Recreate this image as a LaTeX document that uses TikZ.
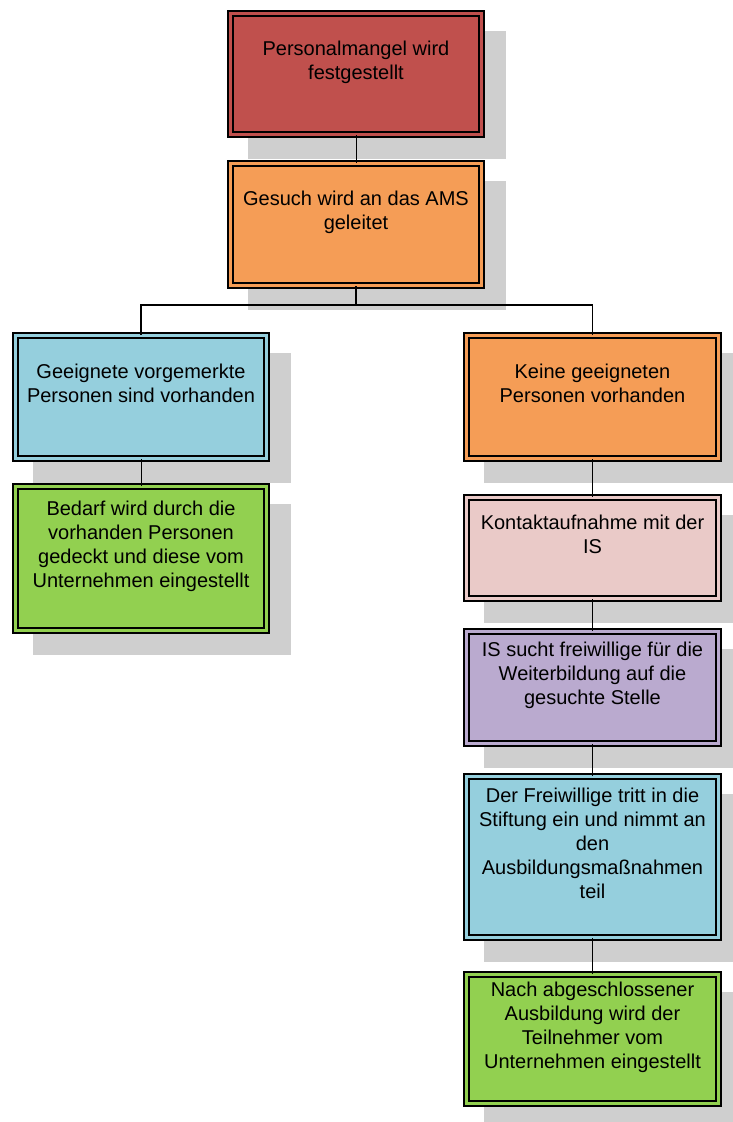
\documentclass[tikz,border=0pt]{standalone}
\usepackage{fontspec}
\setmainfont{Liberation Sans}
\usetikzlibrary{shadows}

\definecolor{redbox}{HTML}{C0504D}
\definecolor{orangebox}{HTML}{F59D56}
\definecolor{bluebox}{HTML}{95CFDD}
\definecolor{greenbox}{HTML}{92D050}
\definecolor{pinkbox}{HTML}{EACAC8}
\definecolor{purplebox}{HTML}{BAAACF}
\definecolor{shadowgray}{HTML}{CFCFCF}

\tikzset{
    stepbox/.style={draw=black, line width=1.7pt, double=#1, double distance=2.8pt,
        fill=#1, minimum width=251pt, inner sep=0pt, align=center,
        font=\fontsize{20}{24}\selectfont, text depth=28pt,
        drop shadow={shadow xshift=21pt, shadow yshift=-21pt, fill=shadowgray,
            draw=shadowgray, line width=6.2pt, opacity=1}},
    link/.style={draw=black, line width=1pt},
    branch/.style={draw=black, line width=1.6pt}
}

\begin{document}
\begin{tikzpicture}[x=1pt,y=-1pt]
    \useasboundingbox (0,0) rectangle (733,1122);
    % 	oberer Strang
        \node [stepbox=redbox, minimum height=121pt] (mangel) at (356,74) {Personalmangel wird\\festgestellt};
        \node [stepbox=orangebox, minimum height=122pt] (gesuch) at (356,224.5) {Gesuch wird an das AMS\\geleitet};
    % 	linker Zweig
        \node [stepbox=bluebox, minimum height=123pt] (geeignet) at (141,397) {Geeignete vorgemerkte\\Personen sind vorhanden};
        \node [stepbox=greenbox, minimum height=144pt] (bedarf) at (141,558.5) {Bedarf wird durch die\\vorhanden Personen\\gedeckt und diese vom\\Unternehmen eingestellt};
    % 	rechter Zweig
        \node [stepbox=orangebox, minimum height=123pt, minimum width=252pt] (keine) at (592.5,397) {Keine geeigneten\\Personen vorhanden};
        \node [stepbox=pinkbox, minimum height=101pt, minimum width=252pt] (kontakt) at (592.5,548) {Kontaktaufnahme mit der\\IS};
        \node [stepbox=purplebox, minimum height=112pt, minimum width=252pt] (sucht) at (592.5,687.5) {IS sucht freiwillige für die\\Weiterbildung auf die\\gesuchte Stelle};
        \node [stepbox=bluebox, minimum height=161pt, minimum width=252pt] (freiwillig) at (592.5,857) {Der Freiwillige tritt in die\\Stiftung ein und nimmt an\\den\\Ausbildungsmaßnahmen\\teil};
        \node [stepbox=greenbox, minimum height=129pt, minimum width=252pt] (nach) at (592.5,1039) {Nach abgeschlossener\\Ausbildung wird der\\Teilnehmer vom\\Unternehmen eingestellt};
    % 	Verbindungen
        \coordinate (split) at (356,305);
        \draw [link] (mangel.south) -- (gesuch.north);
        \draw [branch] (gesuch.south) -- (split) -| (geeignet.north);
        \draw [branch] (split) -| (keine.north);
        \draw [link] (geeignet.south) -- (bedarf.north);
        \draw [link] (keine.south) -- (kontakt.north);
        \draw [link] (kontakt.south) -- (sucht.north);
        \draw [link] (sucht.south) -- (freiwillig.north);
        \draw [link] (freiwillig.south) -- (nach.north);
    \end{tikzpicture}
\end{document}
